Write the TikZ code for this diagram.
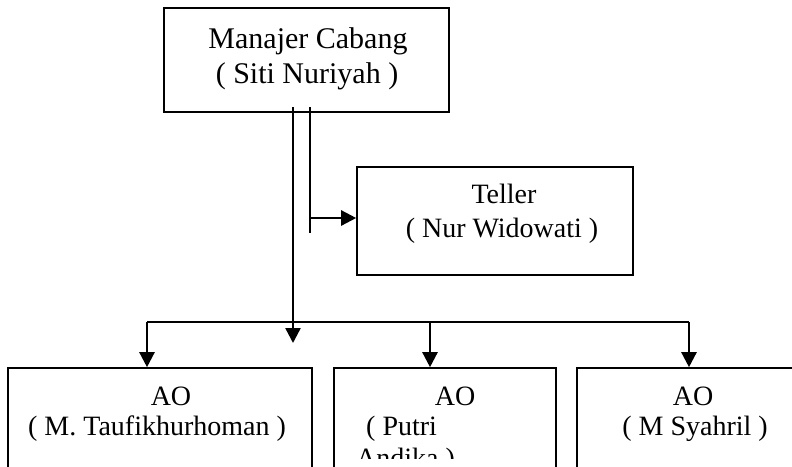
\documentclass[tikz,border=0pt]{standalone}
\usepackage{fontspec}
\setmainfont{Liberation Serif}
\usetikzlibrary{arrows.meta}
\begin{document}
\begin{tikzpicture}[x=1pt,y=-1pt,
  box/.style={draw=black,line width=1.6pt,inner sep=0pt,minimum height=#1},
  box/.default=104pt,
  lbl/.style={anchor=base,inner sep=0pt,font=\fontsize{28}{34}\selectfont},
  lblbig/.style={lbl,font=\fontsize{30}{36}\selectfont},
  lbll/.style={lbl,anchor=base west},
  conn/.style={line width=2.4pt},
  arr/.style={conn,-{Triangle[length=15pt,width=15pt]}}]
\useasboundingbox (0,0) rectangle (792,466);
\clip (0,0) rectangle (792,466);
% boxes
\node[box=104pt,minimum width=285pt] (mgr) at (306.5,60) {};
\node[box=108pt,minimum width=276pt] (tel) at (495,221) {};
\node[box=152pt,minimum width=304pt] (ao1) at (160,444) {};
\node[box=152pt,minimum width=222pt] (ao2) at (445,444) {};
\node[box=152pt,minimum width=243pt] (ao3) at (698.5,444) {};
% texts
\node[lblbig] (t1) at (308,48) {Manajer Cabang};
\node[lblbig] (t2) at (307,83) {( Siti Nuriyah )};
\node[lbl] (t3) at (504,203) {Teller};
\node[lbl] (t4) at (502,237) {( Nur Widowati )};
\node[lbl] (t5) at (171,405) {AO};
\node[lbl] (t6) at (157,435) {( M. Taufikhurhoman )};
\node[lbl] (t7) at (455,405) {AO};
\node[lbll] (t8) at (366,435) {( Putri};
\begin{scope}
\clip (334,440) rectangle (556,458);
\node[lbll] (t9) at (356,467) {Andika )};
\end{scope}
\node[lbl] (t10) at (693,405) {AO};
\node[lbl] (t11) at (695,435) {( M Syahril )};
% connectors
\coordinate (s1) at (293,107);
\coordinate (e1) at (293,343);
\coordinate (s2) at (310,107);
\coordinate (e2) at (310,233);
\coordinate (j2) at (310,218);
\coordinate (bl) at (147,322);
\coordinate (bm) at (430,322);
\coordinate (br) at (689,322);
\draw[arr] (s1) -- (e1);
\draw[conn] (s2) -- (e2);
\draw[arr] (j2) -- (tel.west |- j2);
\draw[conn] (bl) -- (br);
\draw[arr] (bl) -- (ao1.north -| bl);
\draw[arr] (bm) -- (ao2.north -| bm);
\draw[arr] (br) -- (ao3.north -| br);
\end{tikzpicture}
\end{document}
